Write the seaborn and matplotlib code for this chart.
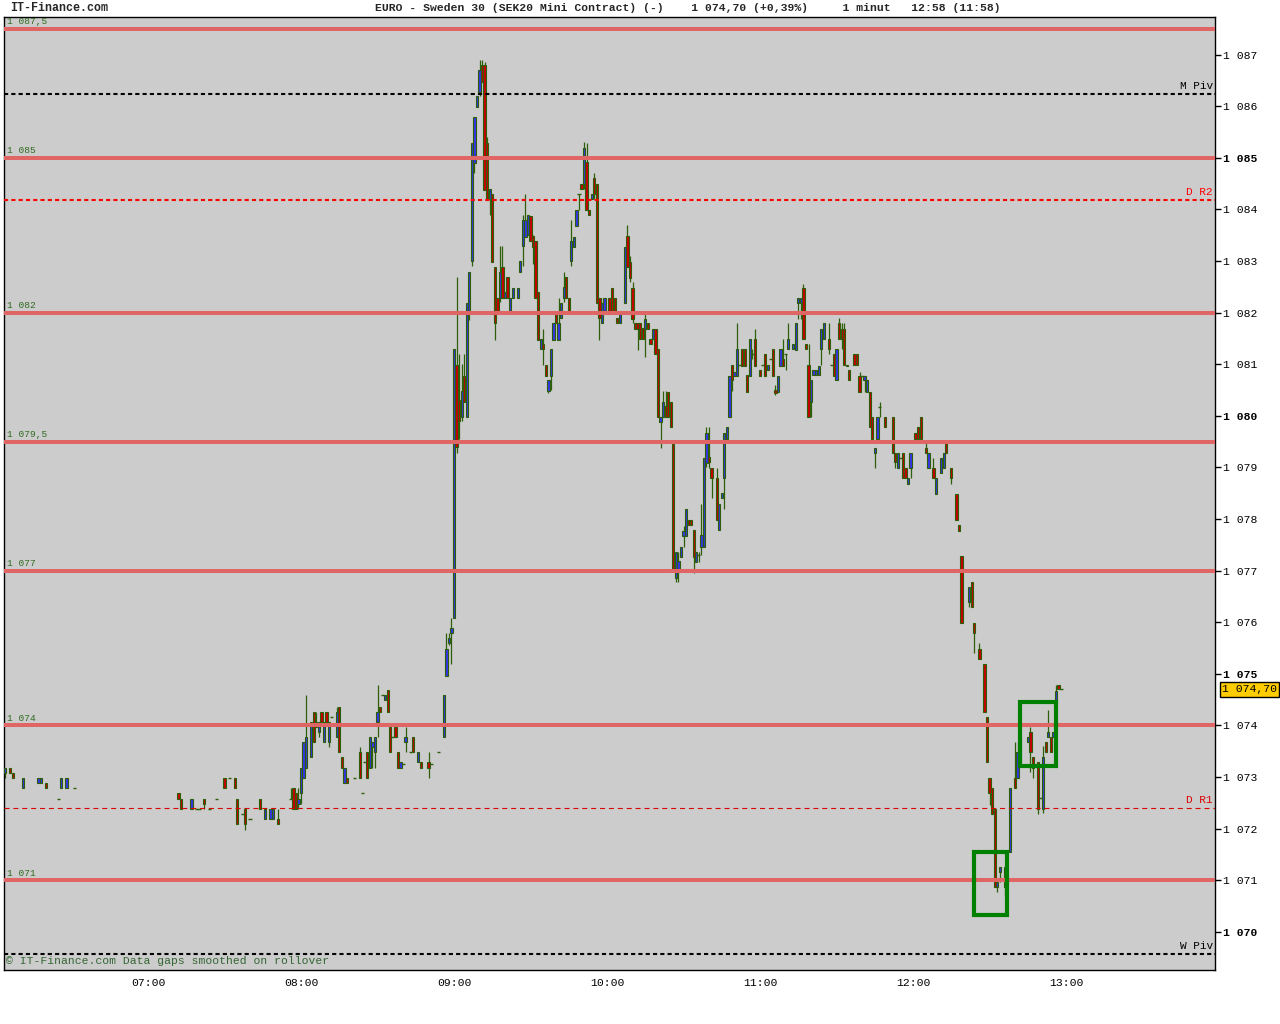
import matplotlib
matplotlib.use("Agg")
import matplotlib.pyplot as plt
from matplotlib.patches import Rectangle
import numpy as np
import pandas as pd
import seaborn as sns

# 1-minute bars
times = [
    "06:04", "06:06", "06:07", "06:11", "06:17", "06:18", "06:20", "06:25", "06:26", "06:28", "06:31",
    "07:12", "07:13", "07:17", "07:19", "07:20", "07:22", "07:24", "07:27", "07:30", "07:32", "07:34",
    "07:35", "07:37", "07:38", "07:40", "07:44", "07:46", "07:48", "07:49", "07:51", "07:56", "07:57",
    "07:58", "07:59", "08:00", "08:01", "08:02", "08:04", "08:05", "08:06", "08:07", "08:08", "08:09",
    "08:10", "08:11", "08:12", "08:14", "08:15", "08:16", "08:17", "08:18", "08:21", "08:23", "08:24",
    "08:25", "08:26", "08:27", "08:28", "08:29", "08:30", "08:31", "08:32", "08:33", "08:34", "08:35",
    "08:36", "08:37", "08:38", "08:39", "08:40", "08:41", "08:43", "08:44", "08:46", "08:47", "08:50",
    "08:51", "08:54", "08:56", "08:57", "08:58", "08:59", "09:00", "09:01", "09:02", "09:03", "09:04",
    "09:05", "09:06", "09:07", "09:08", "09:09", "09:10", "09:11", "09:12", "09:13", "09:14", "09:15",
    "09:16", "09:17", "09:18", "09:19", "09:20", "09:21", "09:22", "09:23", "09:25", "09:26", "09:27",
    "09:28", "09:29", "09:30", "09:31", "09:32", "09:33", "09:34", "09:35", "09:36", "09:37", "09:38",
    "09:39", "09:40", "09:41", "09:42", "09:43", "09:44", "09:45", "09:46", "09:47", "09:48", "09:49",
    "09:50", "09:51", "09:52", "09:53", "09:54", "09:55", "09:56", "09:57", "09:58", "09:59", "10:01",
    "10:02", "10:03", "10:04", "10:05", "10:07", "10:08", "10:09", "10:10", "10:11", "10:12", "10:13",
    "10:14", "10:15", "10:16", "10:17", "10:18", "10:19", "10:20", "10:21", "10:22", "10:23", "10:24",
    "10:25", "10:26", "10:27", "10:28", "10:29", "10:30", "10:31", "10:32", "10:33", "10:34", "10:35",
    "10:36", "10:37", "10:38", "10:39", "10:40", "10:41", "10:43", "10:44", "10:45", "10:46", "10:47",
    "10:48", "10:49", "10:50", "10:51", "10:52", "10:53", "10:54", "10:55", "10:56", "10:57", "10:58",
    "11:00", "11:01", "11:02", "11:03", "11:04", "11:05", "11:06", "11:07", "11:08", "11:09", "11:10",
    "11:11", "11:13", "11:14", "11:15", "11:16", "11:17", "11:18", "11:19", "11:20", "11:21", "11:22",
    "11:23", "11:24", "11:25", "11:27", "11:28", "11:29", "11:30", "11:31", "11:32", "11:33", "11:34",
    "11:35", "11:37", "11:38", "11:39", "11:40", "11:41", "11:42", "11:43", "11:44", "11:45", "11:46",
    "11:47", "11:49", "11:52", "11:53", "11:54", "11:55", "11:56", "11:57", "11:58", "11:59", "12:01",
    "12:02", "12:03", "12:05", "12:06", "12:08", "12:09", "12:11", "12:12", "12:13", "12:15", "12:17",
    "12:18", "12:19", "12:22", "12:23", "12:24", "12:26", "12:28", "12:29", "12:30", "12:31", "12:32",
    "12:33", "12:34", "12:36", "12:38", "12:40", "12:41", "12:42", "12:45", "12:46", "12:47", "12:49",
    "12:50", "12:51", "12:52", "12:53", "12:54", "12:55", "12:56", "12:57", "12:58",
]
opens = [
    1073.08, 1073.18, 1073.08, 1072.79, 1072.89, 1072.89, 1072.89, 1072.58, 1072.79, 1072.79, 1072.79,
    1072.69, 1072.58, 1072.38, 1072.38, 1072.38, 1072.58, 1072.38, 1072.58, 1072.98, 1072.98, 1072.98,
    1072.58, 1072.29, 1072.38, 1072.19, 1072.58, 1072.19, 1072.19, 1072.19, 1072.19, 1072.58, 1072.79,
    1072.69, 1072.48, 1072.69, 1072.98, 1073.18, 1073.39, 1074.26, 1073.97, 1073.88, 1074.26, 1073.68,
    1074.26, 1073.68, 1074.17, 1073.78, 1074.36, 1073.39, 1072.89, 1072.98, 1072.98, 1073.49, 1072.69,
    1073.30, 1073.49, 1073.18, 1073.59, 1073.49, 1074.07, 1074.36, 1074.59, 1074.49, 1074.69, 1073.97,
    1073.78, 1073.97, 1073.49, 1073.18, 1073.25, 1073.68, 1073.49, 1073.78, 1073.30, 1073.30, 1073.30,
    1073.25, 1073.49, 1073.78, 1074.96, 1075.60, 1075.80, 1076.09, 1080.99, 1080.30, 1079.98, 1080.78,
    1079.98, 1082.00, 1083.00, 1084.90, 1085.99, 1086.28, 1086.80, 1086.80, 1085.29, 1084.21, 1084.30,
    1082.89, 1082.29, 1082.29, 1082.89, 1082.29, 1082.69, 1082.00, 1082.29, 1082.29, 1082.79, 1083.30,
    1083.47, 1083.50, 1083.88, 1083.49, 1083.39, 1082.40, 1081.30, 1081.40, 1080.99, 1080.48, 1080.78,
    1081.47, 1082.00, 1081.47, 1081.90, 1082.29, 1082.69, 1082.29, 1083.00, 1083.28, 1083.68, 1084.30,
    1084.50, 1084.50, 1084.92, 1083.99, 1084.21, 1084.60, 1084.50, 1082.29, 1081.80, 1082.00, 1082.29,
    1082.48, 1082.29, 1081.90, 1081.80, 1082.19, 1083.49, 1082.98, 1082.48, 1081.80, 1081.80, 1081.80,
    1081.70, 1081.69, 1081.80, 1081.49, 1081.49, 1081.69, 1081.30, 1079.88, 1079.98, 1080.20, 1080.47,
    1080.27, 1079.46, 1076.86, 1077.02, 1077.27, 1077.67, 1077.67, 1077.98, 1077.98, 1077.79, 1077.17,
    1077.30, 1077.46, 1077.46, 1079.08, 1079.20, 1078.99, 1078.80, 1077.79, 1078.40, 1078.80, 1079.55,
    1079.98, 1080.99, 1080.78, 1080.78, 1080.99, 1081.30, 1081.30, 1080.79, 1080.78, 1081.20, 1081.49,
    1080.89, 1080.99, 1081.20, 1080.89, 1081.10, 1081.30, 1080.50, 1080.47, 1080.97, 1081.10, 1081.20,
    1081.30, 1081.30, 1081.28, 1082.19, 1082.19, 1082.48, 1081.40, 1080.99, 1080.27, 1080.79, 1080.79,
    1080.79, 1081.30, 1081.49, 1081.49, 1080.99, 1081.20, 1080.70, 1081.80, 1081.69, 1081.69, 1080.97,
    1080.89, 1081.20, 1081.20, 1080.78, 1080.78, 1080.70, 1080.47, 1080.47, 1079.98, 1079.28, 1079.55,
    1080.17, 1079.98, 1079.98, 1079.28, 1078.99, 1079.19, 1079.28, 1078.99, 1078.68, 1078.99, 1079.67,
    1079.79, 1079.98, 1079.38, 1078.99, 1078.99, 1078.49, 1078.90, 1078.99, 1079.48, 1078.99, 1078.49,
    1077.88, 1077.29, 1076.40, 1076.78, 1075.99, 1075.48, 1075.19, 1074.17, 1072.98, 1072.79, 1072.38,
    1070.87, 1071.16, 1070.87, 1071.55, 1072.98, 1072.98, 1073.78, 1073.68, 1073.88, 1073.39, 1073.30,
    1072.60, 1072.38, 1073.68, 1073.78, 1073.78, 1073.78, 1074.46, 1074.79, 1074.70,
]
highs = [
    1073.18, 1073.18, 1073.08, 1072.98, 1072.98, 1072.98, 1072.89, 1072.58, 1072.98, 1072.98, 1072.79,
    1072.69, 1072.58, 1072.58, 1072.38, 1072.38, 1072.58, 1072.38, 1072.58, 1072.98, 1072.98, 1072.98,
    1072.58, 1072.29, 1072.38, 1072.19, 1072.58, 1072.38, 1072.38, 1072.38, 1072.38, 1072.79, 1072.79,
    1072.69, 1072.79, 1073.18, 1073.68, 1074.59, 1074.07, 1074.26, 1074.26, 1074.07, 1074.26, 1074.07,
    1074.26, 1074.07, 1074.17, 1074.36, 1074.36, 1073.39, 1073.18, 1072.98, 1072.98, 1073.59, 1072.69,
    1073.30, 1073.49, 1073.78, 1073.68, 1073.78, 1074.79, 1074.36, 1074.59, 1074.59, 1074.69, 1073.97,
    1073.78, 1073.97, 1073.49, 1073.30, 1073.25, 1073.97, 1073.49, 1073.78, 1073.49, 1073.30, 1073.49,
    1073.25, 1073.49, 1074.59, 1075.80, 1075.80, 1076.09, 1081.30, 1082.69, 1081.20, 1081.00, 1081.20,
    1082.19, 1082.79, 1085.29, 1085.79, 1086.20, 1086.90, 1086.90, 1086.85, 1085.40, 1084.40, 1084.30,
    1082.89, 1082.29, 1083.30, 1083.30, 1082.40, 1082.69, 1082.29, 1082.48, 1082.48, 1083.00, 1083.90,
    1084.30, 1083.90, 1083.88, 1083.50, 1083.39, 1082.40, 1081.49, 1081.69, 1080.99, 1080.70, 1081.30,
    1081.80, 1082.00, 1082.29, 1082.19, 1082.79, 1082.69, 1082.29, 1083.80, 1083.47, 1083.99, 1084.30,
    1084.50, 1085.30, 1085.29, 1083.99, 1084.30, 1084.70, 1084.50, 1082.29, 1082.19, 1082.29, 1082.29,
    1082.48, 1082.29, 1081.90, 1082.00, 1083.28, 1083.70, 1083.10, 1082.60, 1081.80, 1081.80, 1081.80,
    1081.70, 1082.00, 1081.80, 1081.49, 1081.69, 1081.69, 1081.30, 1079.98, 1080.48, 1080.48, 1080.47,
    1080.27, 1079.46, 1077.36, 1077.36, 1077.46, 1077.87, 1078.20, 1077.98, 1077.98, 1077.79, 1077.36,
    1077.36, 1078.30, 1079.19, 1079.79, 1079.79, 1078.99, 1078.99, 1078.30, 1078.50, 1079.67, 1079.79,
    1080.78, 1080.99, 1080.85, 1081.80, 1080.99, 1081.30, 1081.30, 1080.79, 1081.49, 1081.30, 1081.69,
    1080.89, 1080.99, 1081.20, 1080.99, 1081.10, 1081.30, 1080.60, 1080.78, 1081.30, 1081.49, 1081.20,
    1081.80, 1081.40, 1081.80, 1082.29, 1082.29, 1082.55, 1081.40, 1081.40, 1080.70, 1080.89, 1080.89,
    1080.97, 1081.69, 1081.80, 1081.80, 1080.99, 1081.20, 1081.30, 1081.90, 1081.80, 1081.80, 1080.99,
    1080.89, 1081.20, 1081.20, 1080.85, 1080.78, 1080.78, 1080.70, 1080.47, 1079.98, 1079.38, 1079.98,
    1080.27, 1079.98, 1079.98, 1079.28, 1079.28, 1079.19, 1079.28, 1078.99, 1078.80, 1079.28, 1079.67,
    1079.79, 1079.98, 1079.48, 1079.28, 1079.19, 1078.80, 1079.19, 1079.28, 1079.48, 1078.99, 1078.49,
    1077.88, 1077.29, 1076.69, 1076.78, 1075.99, 1075.60, 1075.19, 1074.17, 1072.98, 1072.79, 1072.38,
    1070.97, 1071.26, 1071.26, 1072.79, 1073.68, 1073.68, 1073.78, 1073.78, 1073.97, 1073.39, 1073.30,
    1072.60, 1073.60, 1073.68, 1074.30, 1073.78, 1073.88, 1074.79, 1074.79, 1074.70,
]
lows = [
    1072.98, 1073.08, 1072.98, 1072.79, 1072.89, 1072.89, 1072.79, 1072.58, 1072.79, 1072.79, 1072.79,
    1072.58, 1072.38, 1072.38, 1072.38, 1072.38, 1072.38, 1072.38, 1072.58, 1072.79, 1072.98, 1072.79,
    1072.09, 1072.29, 1071.98, 1072.19, 1072.38, 1072.19, 1072.19, 1072.19, 1072.09, 1072.58, 1072.38,
    1072.38, 1072.38, 1072.48, 1072.98, 1073.18, 1073.39, 1073.68, 1073.97, 1073.78, 1074.07, 1073.68,
    1074.07, 1073.59, 1074.17, 1073.78, 1073.49, 1073.18, 1072.89, 1072.89, 1072.98, 1072.98, 1072.69,
    1073.30, 1072.98, 1073.18, 1073.18, 1073.18, 1073.78, 1074.26, 1074.59, 1074.49, 1074.26, 1073.49,
    1073.78, 1073.78, 1073.18, 1073.18, 1073.25, 1073.49, 1073.49, 1073.49, 1073.30, 1073.18, 1072.98,
    1073.25, 1073.49, 1073.78, 1074.96, 1075.55, 1075.19, 1076.09, 1079.28, 1079.55, 1079.90, 1080.27,
    1079.98, 1081.85, 1082.90, 1084.70, 1085.99, 1086.20, 1086.47, 1084.38, 1084.19, 1083.90, 1082.98,
    1081.47, 1082.00, 1082.20, 1082.29, 1082.29, 1082.29, 1082.00, 1082.29, 1082.29, 1082.79, 1082.90,
    1083.47, 1083.50, 1083.39, 1082.95, 1082.29, 1081.47, 1081.30, 1080.99, 1080.78, 1080.45, 1080.50,
    1081.47, 1081.80, 1081.47, 1081.90, 1082.20, 1082.29, 1082.00, 1082.90, 1083.28, 1083.68, 1083.99,
    1084.40, 1084.40, 1083.99, 1083.90, 1084.21, 1084.20, 1082.19, 1081.47, 1081.80, 1082.00, 1082.00,
    1082.00, 1082.00, 1081.80, 1081.80, 1082.19, 1082.89, 1082.60, 1081.80, 1081.69, 1081.28, 1081.49,
    1081.49, 1081.15, 1081.69, 1081.40, 1081.49, 1081.20, 1079.98, 1079.38, 1079.98, 1079.98, 1079.98,
    1079.79, 1077.02, 1076.78, 1076.78, 1077.27, 1077.46, 1077.67, 1077.88, 1077.88, 1076.96, 1077.17,
    1077.17, 1077.30, 1077.46, 1079.00, 1078.99, 1078.40, 1077.98, 1077.79, 1078.40, 1078.20, 1079.55,
    1079.98, 1080.48, 1080.78, 1080.78, 1080.99, 1080.97, 1080.97, 1080.47, 1080.78, 1081.10, 1080.97,
    1080.78, 1080.99, 1080.78, 1080.89, 1081.10, 1080.78, 1080.40, 1080.47, 1080.97, 1080.97, 1080.89,
    1081.30, 1081.30, 1081.28, 1081.88, 1081.88, 1081.49, 1081.30, 1079.98, 1079.98, 1080.79, 1080.79,
    1080.79, 1080.99, 1081.49, 1081.20, 1080.99, 1080.78, 1080.70, 1081.49, 1081.30, 1080.99, 1080.97,
    1080.70, 1080.99, 1080.99, 1080.47, 1080.78, 1080.47, 1080.47, 1079.79, 1079.55, 1078.99, 1079.55,
    1079.98, 1079.79, 1079.28, 1078.99, 1078.99, 1079.19, 1078.80, 1078.80, 1078.68, 1078.80, 1079.55,
    1079.55, 1079.55, 1079.28, 1078.99, 1078.80, 1078.49, 1078.90, 1078.99, 1079.28, 1078.68, 1077.98,
    1077.77, 1075.99, 1076.30, 1076.30, 1075.40, 1075.29, 1074.26, 1073.30, 1072.46, 1072.29, 1070.87,
    1070.78, 1070.97, 1070.70, 1071.55, 1072.79, 1072.98, 1073.30, 1073.68, 1073.10, 1072.98, 1072.29,
    1072.60, 1072.30, 1073.49, 1073.78, 1073.49, 1073.78, 1074.46, 1074.70, 1074.70,
]
closes = [
    1073.18, 1073.08, 1072.98, 1072.98, 1072.98, 1072.98, 1072.79, 1072.58, 1072.98, 1072.98, 1072.79,
    1072.58, 1072.38, 1072.58, 1072.38, 1072.38, 1072.48, 1072.38, 1072.58, 1072.79, 1072.98, 1072.79,
    1072.09, 1072.29, 1072.09, 1072.19, 1072.38, 1072.38, 1072.38, 1072.38, 1072.09, 1072.58, 1072.38,
    1072.38, 1072.58, 1073.18, 1073.68, 1073.78, 1074.07, 1073.68, 1074.07, 1074.07, 1074.07, 1074.07,
    1074.07, 1074.07, 1074.17, 1074.26, 1073.49, 1073.18, 1073.18, 1072.89, 1072.98, 1072.98, 1072.69,
    1073.30, 1072.98, 1073.78, 1073.68, 1073.78, 1074.26, 1074.26, 1074.59, 1074.59, 1074.26, 1073.49,
    1073.78, 1073.78, 1073.18, 1073.30, 1073.25, 1073.78, 1073.49, 1073.49, 1073.49, 1073.18, 1073.18,
    1073.25, 1073.49, 1074.59, 1075.48, 1075.70, 1075.89, 1081.30, 1079.40, 1079.90, 1080.48, 1080.27,
    1082.19, 1082.79, 1085.29, 1085.79, 1086.20, 1086.71, 1086.47, 1084.38, 1084.19, 1084.40, 1082.98,
    1081.80, 1082.00, 1082.79, 1082.29, 1082.40, 1082.29, 1082.29, 1082.48, 1082.48, 1083.00, 1083.80,
    1083.80, 1083.90, 1083.39, 1083.28, 1082.29, 1081.47, 1081.49, 1081.30, 1080.78, 1080.70, 1081.30,
    1081.80, 1081.80, 1081.80, 1082.19, 1082.50, 1082.29, 1082.00, 1083.39, 1083.47, 1083.99, 1084.30,
    1084.40, 1085.19, 1083.99, 1083.90, 1084.30, 1084.30, 1082.19, 1081.90, 1082.19, 1082.29, 1082.00,
    1082.00, 1082.00, 1081.80, 1082.00, 1083.28, 1082.89, 1082.67, 1081.88, 1081.69, 1081.69, 1081.49,
    1081.49, 1081.88, 1081.69, 1081.40, 1081.69, 1081.20, 1079.98, 1079.98, 1080.27, 1079.98, 1079.98,
    1079.79, 1077.02, 1077.36, 1077.19, 1077.46, 1077.77, 1078.20, 1077.88, 1077.88, 1077.27, 1077.36,
    1077.30, 1077.69, 1079.19, 1079.67, 1079.10, 1078.80, 1077.98, 1078.30, 1078.50, 1079.67, 1079.79,
    1080.78, 1080.70, 1080.85, 1081.30, 1080.99, 1080.97, 1080.97, 1080.47, 1081.49, 1081.20, 1080.97,
    1080.78, 1080.99, 1080.78, 1080.99, 1081.10, 1080.78, 1080.45, 1080.78, 1081.30, 1080.97, 1081.20,
    1081.49, 1081.40, 1081.80, 1082.29, 1082.29, 1081.49, 1081.30, 1079.98, 1080.70, 1080.89, 1080.89,
    1080.97, 1081.69, 1081.80, 1081.30, 1080.99, 1080.78, 1081.30, 1081.49, 1081.49, 1080.99, 1080.99,
    1080.70, 1080.99, 1080.99, 1080.47, 1080.78, 1080.78, 1080.70, 1079.79, 1079.55, 1079.38, 1079.98,
    1080.17, 1079.79, 1079.28, 1079.10, 1079.28, 1079.19, 1078.80, 1078.80, 1078.80, 1079.28, 1079.55,
    1079.55, 1079.55, 1079.28, 1079.28, 1078.80, 1078.80, 1079.19, 1079.28, 1079.28, 1078.80, 1077.98,
    1077.77, 1075.99, 1076.69, 1076.30, 1075.80, 1075.29, 1074.26, 1073.30, 1072.69, 1072.29, 1070.87,
    1070.97, 1071.26, 1071.26, 1072.79, 1072.79, 1073.49, 1073.30, 1073.78, 1073.49, 1073.18, 1072.38,
    1072.60, 1073.39, 1073.49, 1073.88, 1073.49, 1073.88, 1074.67, 1074.70, 1074.70,
]

level_prices = [1087.5, 1085.0, 1082.0, 1079.5, 1077.0, 1074.0, 1071.0]
level_labels = ["1 087,5", "1 085", "1 082", "1 079,5", "1 077", "1 074", "1 071"]
pivot_prices = [1086.24, 1084.19, 1072.40, 1069.57]
pivot_labels = ["M Piv", "D R2", "D R1", "W Piv"]
box_start = ["12:24", "12:42"]
box_end = ["12:37", "12:56"]
box_low = [1070.33, 1073.22]
box_high = [1071.55, 1074.46]
xtick_labels = ["07:00", "08:00", "09:00", "10:00", "11:00", "12:00", "13:00"]
last_price = 1074.70
header = "EURO - Sweden 30 (SEK20 Mini Contract) (-)    1 074,70 (+0,39%)     1 minut   12:58 (11:58)"

sns.set_style("white")
plt.rcParams["font.family"] = ["Liberation Mono", "DejaVu Sans Mono"]


def to_min(t):
    h, m = t.split(":")
    return int(h) * 60 + int(m) - 360


df = pd.DataFrame({"t": times, "open": opens, "high": highs, "low": lows, "close": closes})
df["m"] = df["t"].map(to_min)

UP = "#3535e6"
DOWN = "#c80000"
WICK = "#2d5f0a"
LEVEL = "#e06666"

fig = plt.figure(figsize=(12.8, 10.24), dpi=100)
ax = fig.add_axes([3.5 / 1280, 54 / 1024, 1211.5 / 1280, 953 / 1024])
ax.set_facecolor("#cccccc")

# wicks and bodies
ax.vlines(df["m"], df["low"], df["high"], color=WICK, lw=0.9, zorder=2)
up = df[df["close"] > df["open"]]
down = df[df["close"] < df["open"]]
flat = df[df["close"] == df["open"]]
ax.bar(up["m"], up["close"] - up["open"], bottom=up["open"], width=0.9,
       color=UP, edgecolor=WICK, linewidth=0.8, zorder=3)
ax.bar(down["m"], down["close"] - down["open"], bottom=down["open"], width=0.9,
       color=DOWN, edgecolor=WICK, linewidth=0.8, zorder=3)
ax.hlines(flat["close"], flat["m"] - 0.6, flat["m"] + 0.6, color=WICK, lw=1.0, zorder=3)

ax.set_xlim(3.33, 478.4)
ax.set_ylim(1069.26, 1087.73)

blend = ax.get_yaxis_transform()
for p, lab in zip(level_prices, level_labels):
    ax.axhline(p, color=LEVEL, lw=2.9, zorder=4)
    ax.text(0.003, p + 0.05, lab, transform=blend, ha="left", va="bottom",
            fontsize=6.8, color="#2f6a1f", zorder=6)

pivot_colors = ["black", "#ff0000", "#dd0000", "black"]
pivot_lw = [1.5, 1.5, 0.8, 1.5]
pivot_dash = [(0, (2, 1.5)), (0, (2, 1.5)), (0, (4.5, 3.5)), (0, (2, 1.5))]
for p, lab, c, lw, ls in zip(pivot_prices, pivot_labels, pivot_colors, pivot_lw, pivot_dash):
    ax.axhline(p, color=c, lw=lw, linestyle=ls, zorder=4)
    ax.text(0.9983, p + 0.06, lab, transform=blend, ha="right", va="bottom",
            fontsize=8, color=c, zorder=6)

for s, e, lo, hi in zip(box_start, box_end, box_low, box_high):
    ax.add_patch(Rectangle((to_min(s), lo), to_min(e) - to_min(s), hi - lo,
                           fill=False, ec="#008000", lw=3, zorder=5))

# axes styling
for sp in ax.spines.values():
    sp.set_color("black")
    sp.set_linewidth(1.0)
ax.yaxis.tick_right()
yt = np.arange(1070, 1088)
ax.set_yticks(yt)
ax.set_yticklabels([f"1 {v - 1000:03d}" for v in yt])
for v, lab in zip(yt, ax.get_yticklabels()):
    if v % 5 == 0:
        lab.set_fontweight("bold")
ax.tick_params(axis="y", direction="out", length=4, width=1, pad=2, labelsize=8.2, colors="black")
ax.set_xticks([60 * (i + 1) for i in range(len(xtick_labels))])
ax.set_xticklabels(xtick_labels)
ax.tick_params(axis="x", direction="out", length=4, width=1, pad=1.5, labelsize=8.2, colors="black")

ax.text(1.0058, last_price, "1 074,70", transform=blend, ha="left", va="center",
        fontsize=8.2, color="black",
        bbox=dict(boxstyle="square,pad=0.2", fc="#ffcc00", ec="black", lw=1), zorder=7)

ax.text(0.002, 0.004, "\u00a9 IT-Finance.com Data gaps smoothed on rollover", transform=ax.transAxes,
        ha="left", va="bottom", fontsize=8.2, color="#336633", zorder=6)

# header line
ty = 1 - 8 / 1024
fig.text(10 / 1280, ty, "IT-Finance.com", fontsize=8.4, fontweight="bold", va="center", ha="left")
fig.text(375 / 1280, ty, header, fontsize=8.2, fontweight="bold", va="center", ha="left")

fig.savefig("out.png", dpi=100, facecolor="white")
